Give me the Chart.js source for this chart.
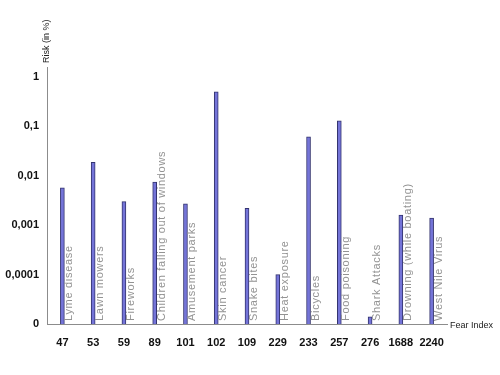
<!DOCTYPE html>
<html>
<head>
<meta charset="utf-8">
<script src="https://cdn.jsdelivr.net/npm/chart.js@4"></script>
<style>
  body { margin: 0; background: #fff; }
  #wrap { width: 500px; height: 375px; }
</style>
</head>
<body>
<div id="wrap"><canvas id="fearChart"></canvas></div>
<script>
// data
const fearIndex = ['47', '53', '59', '89', '101', '102', '109', '229', '233', '257', '276', '1688', '2240'];
const fears = ['Lyme disease', 'Lawn mowers', 'Fireworks', 'Children falling out of windows',
    'Amusement parks', 'Skin cancer', 'Snake bites', 'Heat exposure', 'Bicycles',
    'Food poisoning', 'Shark Attacks', 'Drowning (while boating)', 'West Nile Virus'];
const risk = [0.0057, 0.0187, 0.003, 0.0075, 0.0027, 0.5, 0.0022, 0.0001, 0.062, 0.13, 0.000014, 0.0016, 0.0014];
const yTicks = [0.00001, 0.0001, 0.001, 0.01, 0.1, 1];

const font = '"Liberation Sans", Arial, sans-serif';

// gray names written up along each bar, plus the two axis titles
const labelsPlugin = {
    id: 'fearLabels',
    afterDatasetsDraw(chart) {
        const ctx = chart.ctx;
        const bottom = chart.chartArea.bottom;
        const meta = chart.getDatasetMeta(0);
        ctx.save();
        ctx.font = '11px ' + font;
        ctx.letterSpacing = '0.7px';
        ctx.fillStyle = '#939393';
        ctx.textAlign = 'left';
        ctx.textBaseline = 'middle';
        meta.data.forEach((bar, i) => {
            ctx.save();
            ctx.translate(bar.x + 7, bottom - 3);
            ctx.rotate(-Math.PI / 2);
            ctx.fillText(fears[i], 0, 0);
            ctx.restore();
        });
        ctx.letterSpacing = '0px';

        ctx.font = '9px ' + font;
        ctx.fillStyle = '#222';
        ctx.textBaseline = 'middle';
        ctx.textAlign = 'left';
        ctx.fillText('Fear Index', chart.chartArea.right + 3, bottom + 2);

        ctx.save();
        ctx.translate(chart.chartArea.left, chart.chartArea.top - 4);
        ctx.rotate(-Math.PI / 2);
        ctx.textAlign = 'left';
        ctx.fillText('Risk (in %)', 0, 0);
        ctx.restore();
        ctx.restore();
    }
};

new Chart(document.getElementById('fearChart'), {
    type: 'bar',
    data: {
        labels: fearIndex,
        datasets: [{
            data: risk,
            backgroundColor: '#7474d8',
            borderColor: '#33336e',
            borderWidth: 1,
            borderSkipped: 'bottom',
            barThickness: 4
        }]
    },
    options: {
        responsive: true,
        maintainAspectRatio: false,
        animation: false,
        layout: { padding: { top: 67, right: 53, left: 0, bottom: 0 } },
        plugins: {
            legend: { display: false },
            tooltip: { enabled: false }
        },
        scales: {
            x: {
                grid: { display: false, drawTicks: false },
                border: { color: '#8c8c8c', width: 1 },
                ticks: {
                    color: '#111',
                    font: { family: font, size: 11, weight: 'bold' },
                    padding: 12,
                    maxRotation: 0,
                    autoSkip: false
                },
                afterFit(scale) { scale.height = 51; }
            },
            y: {
                type: 'logarithmic',
                min: 0.00001,
                max: 1.6,
                grid: { display: false, drawTicks: false },
                border: { color: '#8c8c8c', width: 1 },
                afterBuildTicks(scale) {
                    scale.ticks = yTicks.map(v => ({ value: v }));
                },
                ticks: {
                    color: '#111',
                    font: { family: font, size: 11, weight: 'bold' },
                    padding: 8,
                    callback(value) {
                        if (value === 0.00001) return '0';
                        return String(value).replace('.', ',');
                    }
                },
                afterFit(scale) { scale.width = 47; }
            }
        }
    },
    plugins: [labelsPlugin]
});
</script>
</body>
</html>
